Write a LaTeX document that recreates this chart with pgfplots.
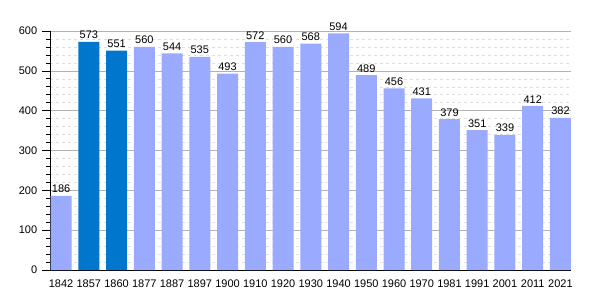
\documentclass[border=0pt]{standalone}
\usepackage{fontspec}
\setmainfont{Liberation Sans}
\usepackage{pgfplots}
\pgfplotsset{compat=1.18}
\definecolor{lightb}{RGB}{153,170,255}
\definecolor{darkb}{RGB}{0,119,204}
\begin{document}
\fontsize{11}{13}\selectfont
\begin{tikzpicture}[x=1pt,y=1pt]
\begin{axis}[
  at={(0,0)}, anchor=south west,
  scale only axis, width=521pt, height=239pt,
  xmin=-0.4, xmax=18.38, ymin=0, ymax=600,
  axis x line*=bottom, axis y line*=left,
  axis line style={black, -},
  xtick={0,...,18},
  xticklabels={1842,1857,1860,1877,1887,1897,1900,1910,1920,1930,1940,1950,1960,1970,1981,1991,2001,2011,2021},
  x tick style={draw=none},
  ytick={0,100,...,600},
  minor ytick={20,40,...,580},
  ymajorgrids, yminorgrids,
  major grid style={gray!60, line width=0.6pt},
  minor grid style={gray!25, dashed, line width=0.5pt},
  tick align=outside,
  major tick length=8pt, minor tick length=4pt,
  y tick style={black, line width=0.6pt},
  minor y tick style={black},
  tick label style={font=\fontsize{11}{13}\selectfont},
  /pgf/number format/assume math mode=true,
  yticklabel style={xshift=-1pt},
  xticklabel style={yshift=2pt},
  ybar, bar width=21pt,
  nodes near coords,
  every node near coord/.append style={font=\fontsize{11}{13}\selectfont, black, yshift=-1pt},
  clip=false,
]
\addplot[bar shift=0pt, fill=lightb, draw=none] coordinates {
(0,186) (3,560) (4,544) (5,535) (6,493) (7,572) (8,560) (9,568) (10,594) (11,489) (12,456) (13,431) (14,379) (15,351) (16,339) (17,412) (18,382)};
\addplot[bar shift=0pt, fill=darkb, draw=none] coordinates {(1,573) (2,551)};
\end{axis}
\useasboundingbox (-50pt,-30pt) rectangle (550pt,270pt);
\end{tikzpicture}
\end{document}
